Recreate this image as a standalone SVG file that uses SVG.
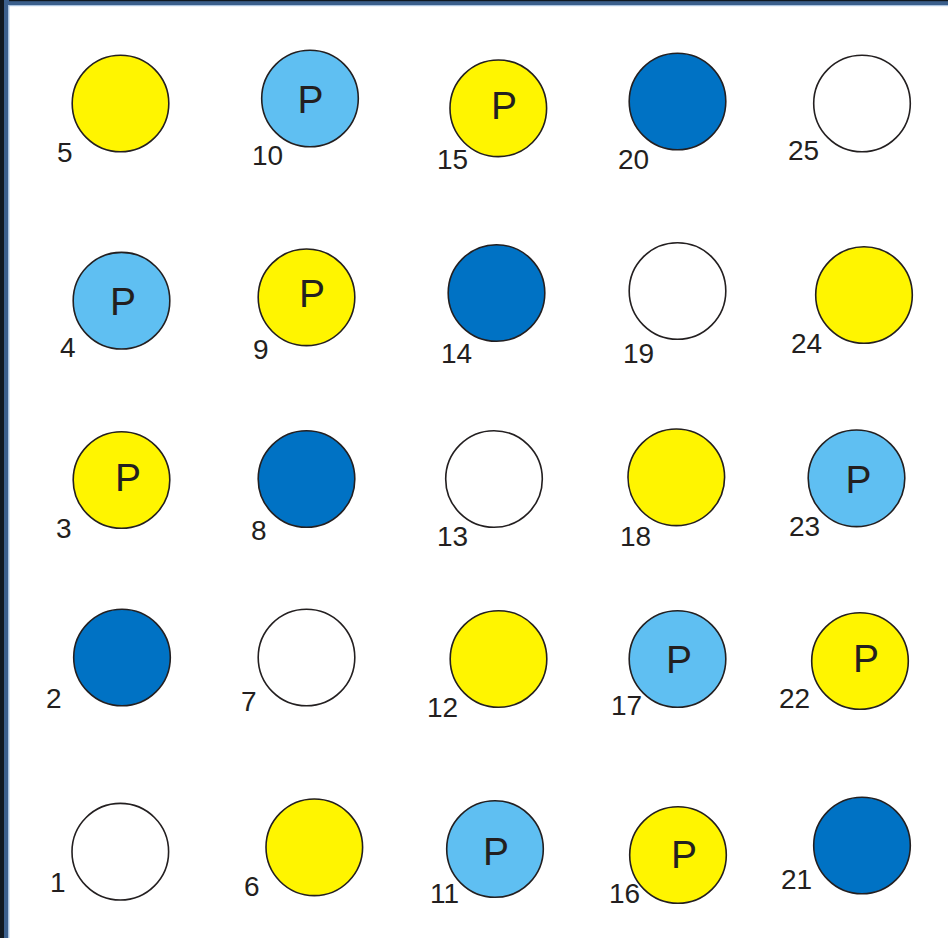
<svg xmlns="http://www.w3.org/2000/svg" width="948" height="938" viewBox="0 0 948 938">
<style>
.c{stroke:#231f20;stroke-width:1.6}
.y{fill:#fff500}
.lb{fill:#5fbff2}
.db{fill:#0072c4}
.w{fill:#ffffff}
.n{font-family:"Liberation Sans",Arial,sans-serif;font-size:28px;fill:#231f20}
.p{font-family:"Liberation Sans",Arial,sans-serif;font-size:39px;fill:#231f20;text-anchor:middle}
</style>
<rect x="0" y="0" width="948" height="938" fill="#ffffff"/>
<g id="frame">
<rect x="0" y="0" width="948" height="6" fill="#3b5f8c"/>
<rect x="0" y="0" width="948" height="1.2" fill="#101820"/>
<rect x="9" y="5" width="939" height="1.2" fill="#a9c3e0"/>
<rect x="0" y="0" width="9" height="938" fill="#3b5f8c"/>
<rect x="0" y="0" width="4" height="938" fill="#101820"/>
<rect x="8" y="5" width="1.4" height="933" fill="#a9c3e0"/>
</g>
<g id="connectors"></g>
<g id="n5"><circle class="c y" cx="120.5" cy="103.5" r="48.3"/><text class="n" x="57" y="162">5</text></g>
<g id="n10"><circle class="c lb" cx="310" cy="98.5" r="48.3"/><text class="p" x="310.5" y="113">P</text><text class="n" x="252" y="165">10</text></g>
<g id="n15"><circle class="c y" cx="498.3" cy="108.3" r="48.3"/><text class="p" x="504" y="119">P</text><text class="n" x="437" y="169">15</text></g>
<g id="n20"><circle class="c db" cx="677.5" cy="101.5" r="48.3"/><text class="n" x="618" y="169">20</text></g>
<g id="n25"><circle class="c w" cx="862" cy="103.5" r="48.3"/><text class="n" x="788" y="160">25</text></g>

<g id="n4"><circle class="c lb" cx="121.5" cy="300.7" r="48.3"/><text class="p" x="123" y="315">P</text><text class="n" x="60" y="357">4</text></g>
<g id="n9"><circle class="c y" cx="306.5" cy="297.3" r="48.3"/><text class="p" x="312" y="307">P</text><text class="n" x="253" y="359">9</text></g>
<g id="n14"><circle class="c db" cx="496.5" cy="293" r="48.3"/><text class="n" x="441" y="363">14</text></g>
<g id="n19"><circle class="c w" cx="677.5" cy="291" r="48.3"/><text class="n" x="623" y="363">19</text></g>
<g id="n24"><circle class="c y" cx="864" cy="295" r="48.3"/><text class="n" x="791" y="353">24</text></g>

<g id="n3"><circle class="c y" cx="121.5" cy="480" r="48.3"/><text class="p" x="128" y="491">P</text><text class="n" x="56" y="538">3</text></g>
<g id="n8"><circle class="c db" cx="306.5" cy="479" r="48.3"/><text class="n" x="251" y="540">8</text></g>
<g id="n13"><circle class="c w" cx="494" cy="479" r="48.3"/><text class="n" x="437" y="546">13</text></g>
<g id="n18"><circle class="c y" cx="676.3" cy="477.3" r="48.3"/><text class="n" x="620" y="546">18</text></g>
<g id="n23"><circle class="c lb" cx="856.5" cy="478.3" r="48.3"/><text class="p" x="858.5" y="493">P</text><text class="n" x="789" y="536">23</text></g>

<g id="n2"><circle class="c db" cx="122" cy="657.5" r="48.3"/><text class="n" x="46" y="708">2</text></g>
<g id="n7"><circle class="c w" cx="306.5" cy="657.5" r="48.3"/><text class="n" x="241" y="711">7</text></g>
<g id="n12"><circle class="c y" cx="498.5" cy="659" r="48.3"/><text class="n" x="427" y="717">12</text></g>
<g id="n17"><circle class="c lb" cx="677.5" cy="659" r="48.3"/><text class="p" x="679" y="673">P</text><text class="n" x="611" y="715">17</text></g>
<g id="n22"><circle class="c y" cx="860" cy="661" r="48.3"/><text class="p" x="866" y="672">P</text><text class="n" x="779" y="708">22</text></g>

<g id="n1"><circle class="c w" cx="120.3" cy="851.7" r="48.3"/><text class="n" x="50" y="892">1</text></g>
<g id="n6"><circle class="c y" cx="314.3" cy="847.3" r="48.3"/><text class="n" x="244" y="896">6</text></g>
<g id="n11"><circle class="c lb" cx="495" cy="849" r="48.3"/><text class="p" x="496" y="865">P</text><text class="n" x="430" y="903">11</text></g>
<g id="n16"><circle class="c y" cx="678" cy="855" r="48.3"/><text class="p" x="684" y="868">P</text><text class="n" x="609" y="903">16</text></g>
<g id="n21"><circle class="c db" cx="862" cy="845.5" r="48.3"/><text class="n" x="781" y="889">21</text></g>
</svg>
